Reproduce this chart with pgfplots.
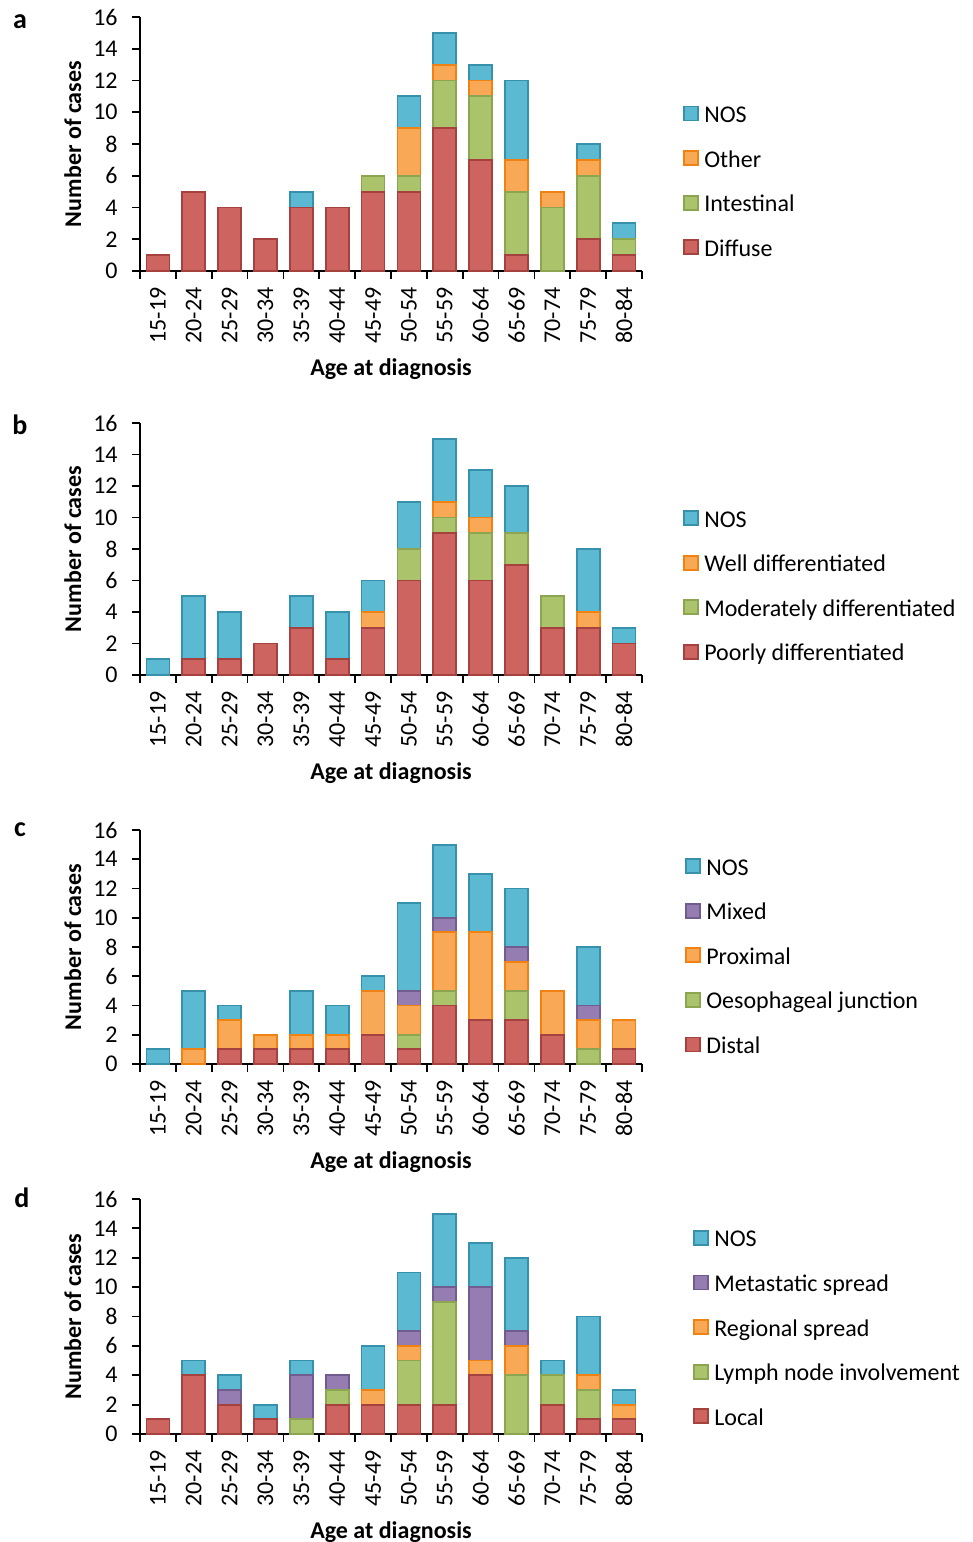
\documentclass[border=0pt]{standalone}
\usepackage{fontspec}
\setmainfont{Carlito}
\usepackage{pgfplots}
\pgfplotsset{compat=1.18}
\usepackage{pgfplotstable}

\definecolor{redF}{RGB}{205,100,96}
\definecolor{redD}{RGB}{165,66,63}
\definecolor{grnF}{RGB}{171,196,108}
\definecolor{grnD}{RGB}{140,165,80}
\definecolor{orgF}{RGB}{249,168,86}
\definecolor{orgD}{RGB}{240,130,20}
\definecolor{bluF}{RGB}{91,185,209}
\definecolor{bluD}{RGB}{55,145,172}
\definecolor{purF}{RGB}{149,124,177}
\definecolor{purD}{RGB}{112,92,143}

\newcommand{\fs}{\fontsize{12}{14}\selectfont}

% Panel a: Diffuse, Intestinal, Other, NOS
\pgfplotstableread{
x D I O N
0 1 0 0 0
1 5 0 0 0
2 4 0 0 0
3 2 0 0 0
4 4 0 0 1
5 4 0 0 0
6 5 1 0 0
7 5 1 3 2
8 9 3 1 2
9 7 4 1 1
10 1 4 2 5
11 0 4 1 0
12 2 4 1 1
13 1 1 0 1
}\tabA
% Panel b: Poorly, Moderately, Well, NOS
\pgfplotstableread{
x P M W N
0 0 0 0 1
1 1 0 0 4
2 1 0 0 3
3 2 0 0 0
4 3 0 0 2
5 1 0 0 3
6 3 0 1 2
7 6 2 0 3
8 9 1 1 4
9 6 3 1 3
10 7 2 0 3
11 3 2 0 0
12 3 0 1 4
13 2 0 0 1
}\tabB
% Panel c: Distal, Oesophageal junction, Proximal, Mixed, NOS
\pgfplotstableread{
x D O P X N
0 0 0 0 0 1
1 0 0 1 0 4
2 1 0 2 0 1
3 1 0 1 0 0
4 1 0 1 0 3
5 1 0 1 0 2
6 2 0 3 0 1
7 1 1 2 1 6
8 4 1 4 1 5
9 3 0 6 0 4
10 3 2 2 1 4
11 2 0 3 0 0
12 0 1 2 1 4
13 1 0 2 0 0
}\tabC
% Panel d: Local, Lymph node, Regional, Metastatic, NOS
\pgfplotstableread{
x L Y R M N
0 1 0 0 0 0
1 4 0 0 0 1
2 2 0 0 1 1
3 1 0 0 0 1
4 0 1 0 3 1
5 2 1 0 1 0
6 2 0 1 0 3
7 2 3 1 1 4
8 2 7 0 1 5
9 4 0 1 5 3
10 0 4 2 1 5
11 2 2 0 0 1
12 1 2 1 0 4
13 1 0 1 0 1
}\tabD

\pgfplotsset{
  sq legend/.style={legend image code/.code={%
      \draw[##1, line width=0.9pt] (0pt,-2pt) rectangle (7pt,5pt);
      \path[draw=none, fill=none] (0pt,-2pt) -- (10pt,-2pt);}},
  seg/.style={fill=#1F, draw=#1D, line width=0.9pt, bar shift=0pt, bar width=11.5pt,
      y filter/.expression={y==0 ? nan : y}, sq legend},
  panel/.style={
    scale only axis, width=251pt,
    ybar, bar width=11.5pt, enlargelimits=false,
    xmin=-0.5, xmax=13.5, ymin=0, ymax=16,
    ytick={0,2,...,16},
    xtick={0,...,13},
    xticklabels={15-19,20-24,25-29,30-34,35-39,40-44,45-49,50-54,55-59,60-64,65-69,70-74,75-79,80-84},
    minor xtick={-0.5,0.5,...,13.5},
    axis lines=left,
    axis line style={-, line width=0.9pt, black},
    tick align=outside,
    major tick length=4pt, minor tick length=4pt,
    tick style={black, line width=0.9pt},
    major x tick style={draw=none},
    xticklabel style={rotate=90, anchor=east, font=\fs},
    yticklabel style={font=\fs, xshift=-3pt},
    /pgf/number format/assume math mode=true,
    xlabel={Age at diagnosis}, ylabel={Number of cases},
    every axis x label/.style={at={(axis description cs:0.5,0)}, anchor=center, yshift=-49pt, font=\fs\bfseries},
    every axis y label/.style={at={(axis description cs:-0.134,0.5)}, anchor=center, rotate=90, font=\fs\bfseries},
    legend cell align=left,
    legend style={draw=none, fill=none, anchor=west, font=\fs, row sep=11.3pt, column sep=0pt, inner sep=0pt,
      nodes={inner xsep=0pt, inner ysep=0pt, text height=8.5pt, text depth=2.5pt}},
  }
}

\begin{document}
\fs
\begin{tikzpicture}
\useasboundingbox (0pt,0pt) rectangle (486.5pt,-771pt);

% ---------- a ----------
\begin{axis}[panel, at={(70pt,-135.5pt)}, anchor=south west, height=127pt,
  legend style={at={(1,0.345)}, xshift=20.5pt}]
\addplot[seg=blu] table[x=x, y expr=\thisrow{D}+\thisrow{I}+\thisrow{O}+\thisrow{N}] {\tabA};
\addlegendentry{NOS}
\addplot[seg=org] table[x=x, y expr=\thisrow{D}+\thisrow{I}+\thisrow{O}] {\tabA};
\addlegendentry{Other}
\addplot[seg=grn] table[x=x, y expr=\thisrow{D}+\thisrow{I}] {\tabA};
\addlegendentry{Intestinal}
\addplot[seg=red] table[x=x, y=D] {\tabA};
\addlegendentry{Diffuse}
\end{axis}

% ---------- b ----------
\begin{axis}[panel, at={(70pt,-337.5pt)}, anchor=south west, height=126pt,
  legend style={at={(1,0.345)}, xshift=20.5pt}]
\addplot[seg=blu] table[x=x, y expr=\thisrow{P}+\thisrow{M}+\thisrow{W}+\thisrow{N}] {\tabB};
\addlegendentry{NOS}
\addplot[seg=org] table[x=x, y expr=\thisrow{P}+\thisrow{M}+\thisrow{W}] {\tabB};
\addlegendentry{Well differentiated}
\addplot[seg=grn] table[x=x, y expr=\thisrow{P}+\thisrow{M}] {\tabB};
\addlegendentry{Moderately differentiated}
\addplot[seg=red] table[x=x, y=P] {\tabB};
\addlegendentry{Poorly differentiated}
\end{axis}

% ---------- c ----------
\begin{axis}[panel, at={(70pt,-532pt)}, anchor=south west, height=117pt,
  legend style={at={(1,0.452)}, xshift=21.5pt}]
\addplot[seg=blu] table[x=x, y expr=\thisrow{D}+\thisrow{O}+\thisrow{P}+\thisrow{X}+\thisrow{N}] {\tabC};
\addlegendentry{NOS}
\addplot[seg=pur] table[x=x, y expr=\thisrow{D}+\thisrow{O}+\thisrow{P}+\thisrow{X}] {\tabC};
\addlegendentry{Mixed}
\addplot[seg=org] table[x=x, y expr=\thisrow{D}+\thisrow{O}+\thisrow{P}] {\tabC};
\addlegendentry{Proximal}
\addplot[seg=grn] table[x=x, y expr=\thisrow{D}+\thisrow{O}] {\tabC};
\addlegendentry{Oesophageal junction}
\addplot[seg=red] table[x=x, y=D] {\tabC};
\addlegendentry{Distal}
\end{axis}

% ---------- d ----------
\begin{axis}[panel, at={(70pt,-717pt)}, anchor=south west, height=117.5pt,
  legend style={at={(1,0.442)}, xshift=25.5pt}]
\addplot[seg=blu] table[x=x, y expr=\thisrow{L}+\thisrow{Y}+\thisrow{R}+\thisrow{M}+\thisrow{N}] {\tabD};
\addlegendentry{NOS}
\addplot[seg=pur] table[x=x, y expr=\thisrow{L}+\thisrow{Y}+\thisrow{R}+\thisrow{M}] {\tabD};
\addlegendentry{Metastatic spread}
\addplot[seg=org] table[x=x, y expr=\thisrow{L}+\thisrow{Y}+\thisrow{R}] {\tabD};
\addlegendentry{Regional spread}
\addplot[seg=grn] table[x=x, y expr=\thisrow{L}+\thisrow{Y}] {\tabD};
\addlegendentry{Lymph node involvement}
\addplot[seg=red] table[x=x, y=L] {\tabD};
\addlegendentry{Local}
\end{axis}

\node[font=\fontsize{14}{16}\selectfont\bfseries] at (10pt,-11pt) {a};
\node[font=\fontsize{14}{16}\selectfont\bfseries] at (10pt,-212.5pt) {b};
\node[font=\fontsize{14}{16}\selectfont\bfseries] at (10pt,-415pt) {c};
\node[font=\fontsize{14}{16}\selectfont\bfseries] at (11pt,-599pt) {d};
\end{tikzpicture}
\end{document}
